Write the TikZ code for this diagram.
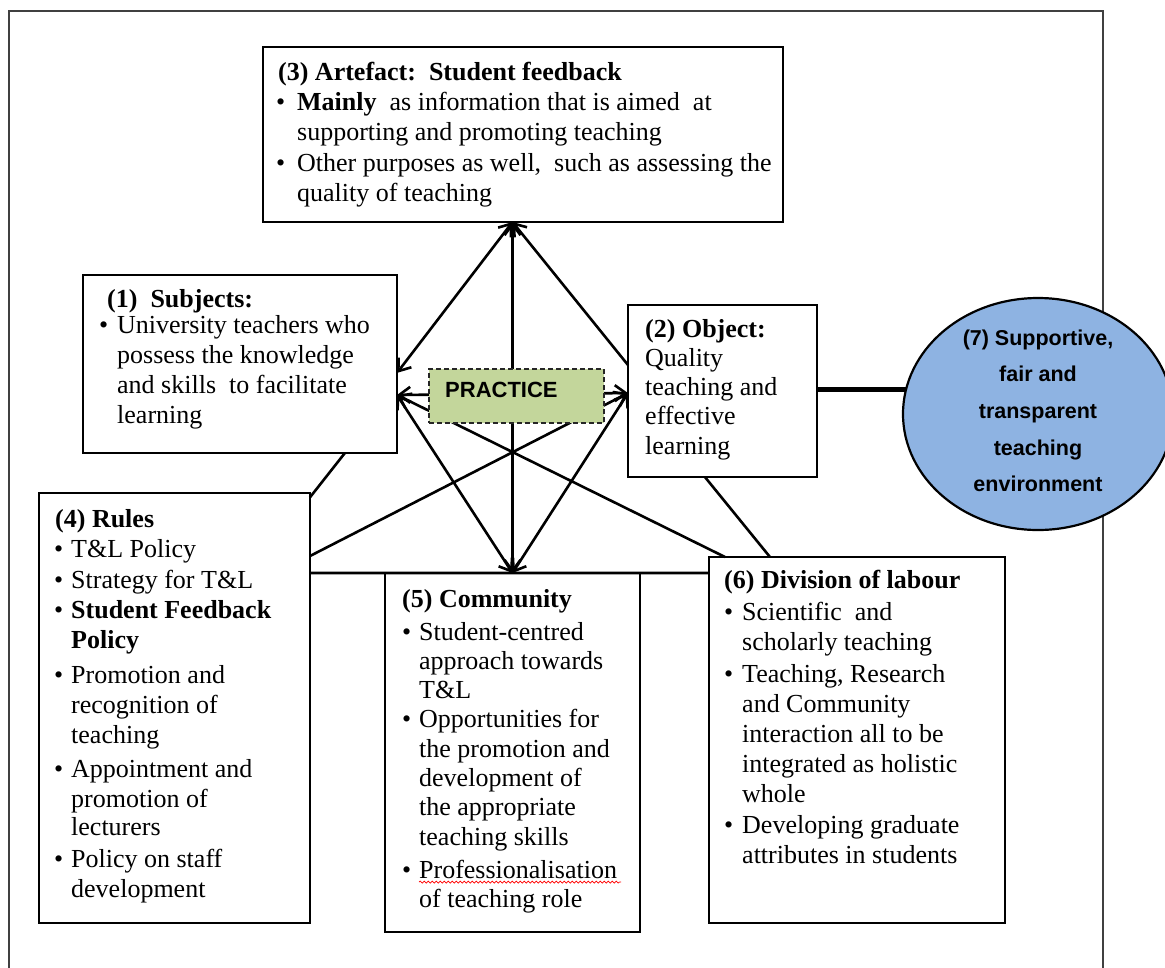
\documentclass[tikz,border=0pt]{standalone}
\usepackage{fontspec}
\setmainfont{Liberation Serif}
\newfontfamily\headsans{Liberation Sans}
\usetikzlibrary{arrows.meta,calc,shapes.geometric,decorations.pathmorphing,backgrounds}
\newlength\bulw
\newcommand{\bul}{\makebox[\bulw][l]{\textbullet}}
\newcommand{\ind}{\hspace*{\bulw}}
\definecolor{practicegreen}{HTML}{C3D69B}
\definecolor{envblue}{HTML}{8EB3E2}

\begin{document}
\begin{tikzpicture}[x=1pt,y=-1pt,
  >={Straight Barb[length=11pt,width=16pt]},
  box/.style={draw=black, line width=1.6pt, fill=white, anchor=north west,
    inner sep=0pt, outer sep=0pt},
  body/.style={anchor=base west, inner sep=0pt, font=\fontsize{26}{30}\selectfont},
  link/.style={line width=2.6pt},
  practicebox/.style={draw=black!85, dash pattern=on 5pt off 3pt, line width=1.6pt,
    fill=practicegreen, anchor=north west, inner sep=0pt},
  envnode/.style={ellipse, draw=black, line width=2.2pt, fill=envblue, inner sep=0pt},
  sanslabel/.style={inner sep=0pt, font=\headsans\bfseries\fontsize{#1}{36.7}\selectfont},
  frame/.style={line width=2pt, draw=black!75}
]
\useasboundingbox (0,0) rectangle (1165,967);

% outer frame, open at the bottom
\draw[frame] (9,985) -- (9,11) -- (1103,11) -- (1103,985);

% activity-system boxes
\node[box, minimum width=520pt, minimum height=175pt] (a3) at (263,47) {};
\node[box, minimum width=314pt, minimum height=178pt] (s1) at (83,275) {};
\node[box, minimum width=189pt, minimum height=172pt] (o2) at (628,305) {};
\node[box, minimum width=271pt, minimum height=430pt] (r4) at (39,493) {};
\node[box, minimum width=255pt, minimum height=359pt] (c5) at (385,573) {};
\node[box, minimum width=296pt, minimum height=366pt] (d6) at (709,557) {};
\node[envnode, minimum width=270pt, minimum height=232pt] (e7) at (1038,414) {};

% connection points on the box edges
\coordinate (a3b) at (a3.south -| c5.north);
\coordinate (s1a) at ($(s1.north east)!0.55!(s1.south east)$);
\coordinate (s1b) at ($(s1.north east)!0.674!(s1.south east)$);
\coordinate (o2a) at ($(o2.north west)!0.349!(o2.south west)$);
\coordinate (o2b) at ($(o2.north west)!0.512!(o2.south west)$);
\coordinate (o2e) at ($(o2.north east)!0.494!(o2.south east)$);
\coordinate (s1s) at ($(s1.south west)!0.834!(s1.south east)$);
\coordinate (o2s) at ($(o2.south west)!0.407!(o2.south east)$);
\coordinate (r4a) at ($(r4.north east)!0.01!(r4.south east)$);
\coordinate (r4b) at ($(r4.north east)!0.1465!(r4.south east)$);
\coordinate (r4c) at ($(r4.north east)!0.186!(r4.south east)$);
\coordinate (d6a) at ($(d6.north west)!0.054!(d6.north east)$);
\coordinate (d6b) at ($(d6.north west)!0.206!(d6.north east)$);
\coordinate (d6c) at ($(d6.north west)!0.0437!(d6.south west)$);

% link from the object to the environment
\begin{scope}[on background layer]
  \draw[line width=5pt] (o2e) -- (o2e -| e7.center);
\end{scope}

% connectors between the elements
\draw[link,<->] (a3b) -- (c5.north);
\draw[link,<->] (a3b) -- (s1a);
\draw[link,->] (o2a) -- (a3b);
\draw[link,<->] (s1b) -- (o2b);
\draw[link,<->] (s1b) -- (c5.north);
\draw[link,<->] (o2b) -- (c5.north);
\draw[link,<-] (s1b) -- (d6a);
\draw[link,<-] (o2b) -- (r4b);
\draw[link] (s1s) -- (r4a);
\draw[link] (o2s) -- (d6b);
\draw[link] (r4c) -- (d6c);

% central practice label
\node[practicebox, minimum width=175pt, minimum height=54pt] (pr) at (428,368) {};
\node[anchor=base west, inner sep=0pt, font=\headsans\bfseries\fontsize{22}{26}\selectfont]
  (prt) at (445,397) {PRACTICE};

% box texts
\node[body] (t3) at (276,80) {\setlength\bulw{21pt}\begin{tabular}[t]{@{}l@{}}
\hspace*{2pt}\textbf{(3) Artefact:\ \ Student feedback}\\
\bul\textbf{Mainly}\ \ as information that is aimed\ \ at\\
\ind supporting and promoting teaching\\[1pt]
\bul Other purposes as well,\ \ such as assessing the\\
\ind quality of teaching
\end{tabular}};

\node[body] (t1) at (99,307) {\setlength\bulw{18pt}\begin{tabular}[t]{@{}l@{}}
\hspace*{8pt}\textbf{(1)\ \ Subjects:}\\[-4pt]
\bul University teachers who\\
\ind possess the knowledge\\
\ind and skills\ \ to facilitate\\
\ind learning
\end{tabular}};

\node[body, font=\fontsize{26}{29.3}\selectfont] (t2) at (645,337) {\begin{tabular}[t]{@{}l@{}}
\textbf{(2) Object:}\\
Quality\\
teaching and\\
effective\\
learning
\end{tabular}};

\node[body] (t4) at (54,527) {\setlength\bulw{17pt}\begin{tabular}[t]{@{}l@{}}
\hspace*{1pt}\textbf{(4) Rules}\\
\bul T\&L Policy\\[1pt]
\bul Strategy for T\&L\\
\bul\textbf{Student Feedback}\\
\ind\textbf{Policy}\\[5pt]
\bul Promotion and\\
\ind recognition of\\
\ind teaching\\[4pt]
\bul Appointment and\\
\ind promotion of\\[-2pt]
\ind lecturers\\[2pt]
\bul Policy on staff\\
\ind development
\end{tabular}};

\node[body, font=\fontsize{26}{29.3}\selectfont] (t5) at (402,607) {\setlength\bulw{17pt}\begin{tabular}[t]{@{}l@{}}
\textbf{(5) Community}\\[3.7pt]
\bul Student-centred\\
\ind approach towards\\
\ind T\&L\\
\bul Opportunities for\\
\ind the promotion and\\
\ind development of\\
\ind the appropriate\\
\ind teaching skills\\[4pt]
\bul Professionalisation\\
\ind of teaching role
\end{tabular}};

\node[body] (t6) at (724,588) {\setlength\bulw{18pt}\begin{tabular}[t]{@{}l@{}}
\textbf{(6) Division of labour}\\[2pt]
\bul Scientific\ \ and\\
\ind scholarly teaching\\[2pt]
\bul Teaching, Research\\
\ind and Community\\
\ind interaction all to be\\
\ind integrated as holistic\\
\ind whole\\[1pt]
\bul Developing graduate\\
\ind attributes in students
\end{tabular}};

% spell-check underline under the long word
\draw[red, line width=0.7pt, decorate,
  decoration={snake, amplitude=1pt, segment length=4pt}] (419,882) -- (621,882);

% environment label
\node[sanslabel=21.5, anchor=base] (t7) at (1038,345) {\begin{tabular}[t]{@{}c@{}}
(7) Supportive,\\
fair and\\
transparent\\
teaching\\
environment
\end{tabular}};
\end{tikzpicture}
\end{document}
